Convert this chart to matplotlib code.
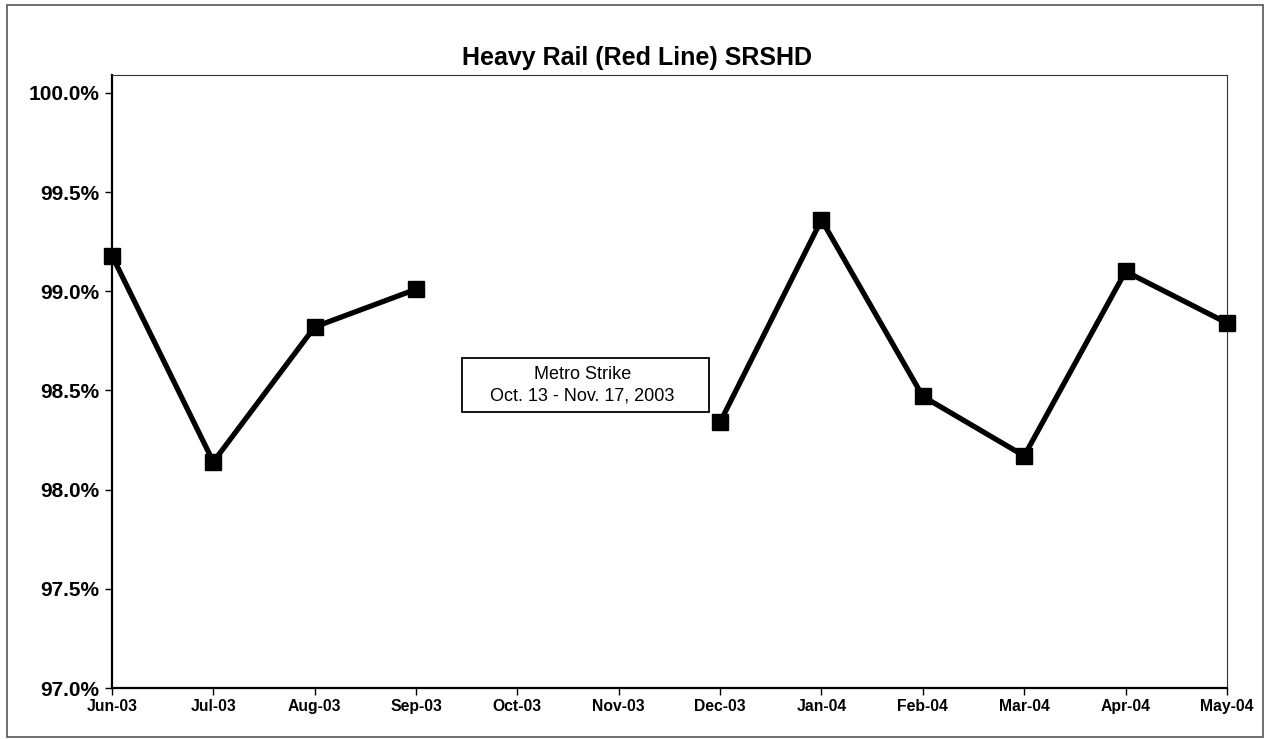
#!/usr/bin/env python3
# Heavy Rail (Red Line) SRSHD - monthly line chart with strike gap

import numpy as np
import matplotlib
matplotlib.use('Agg')
import matplotlib.pyplot as plt
from matplotlib.patches import Rectangle
from matplotlib.ticker import FuncFormatter

plt.rcParams['font.family'] = ['Liberation Sans', 'DejaVu Sans']

months = ['Jun-03', 'Jul-03', 'Aug-03', 'Sep-03', 'Oct-03', 'Nov-03',
          'Dec-03', 'Jan-04', 'Feb-04', 'Mar-04', 'Apr-04', 'May-04']
# percent; Oct/Nov missing because of the strike
srshd = [99.18, 98.14, 98.82, 99.01, np.nan, np.nan,
         98.34, 99.36, 98.47, 98.17, 99.10, 98.84]
y_ticks = [97.0, 97.5, 98.0, 98.5, 99.0, 99.5, 100.0]
note = 'Metro Strike\nOct. 13 - Nov. 17, 2003'

fig = plt.figure(figsize=(12.68, 7.39), dpi=100)
ax = fig.add_axes([0.0883, 0.069, 0.8793, 0.8295])

x = np.arange(len(months))
ax.plot(x, srshd, '-s', color='black', linewidth=3.8, markersize=11,
        clip_on=False, zorder=3)

ax.set_xlim(0, len(months) - 1)
ax.set_ylim(97.0, 100.09)
ax.set_xticks(x)
ax.set_xticklabels(months, fontsize=11.3, fontweight='bold')
ax.set_yticks(y_ticks)
ax.yaxis.set_major_formatter(FuncFormatter(lambda v, p: f'{v:.1f}%'))
for lbl in ax.get_yticklabels():
    lbl.set_fontsize(15)
    lbl.set_fontweight('bold')
ax.tick_params(axis='both', direction='out', length=5, width=1, color='black')
ax.tick_params(axis='x', pad=3)
ax.tick_params(axis='y', pad=4)

for side in ['left', 'bottom']:
    ax.spines[side].set_linewidth(1.6)
for side in ['top', 'right']:
    ax.spines[side].set_linewidth(0.8)
    ax.spines[side].set_color('#333333')

# strike note box
ax.add_patch(Rectangle((3.455, 98.392), 2.44, 0.272, facecolor='white',
                       edgecolor='black', linewidth=1.3, zorder=4))
ax.text(4.64, 98.525, note, ha='center', va='center', fontsize=13,
        linespacing=1.35, zorder=5)

fig.text(0.502, 0.912, 'Heavy Rail (Red Line) SRSHD', ha='center', va='baseline',
         fontsize=18, fontweight='bold')

# outer chart frame
fig.patches.append(Rectangle((0.0055, 0.003), 0.9905, 0.99, transform=fig.transFigure,
                             fill=False, edgecolor='#555555', linewidth=1.2))

fig.savefig('out.png', dpi=100)
